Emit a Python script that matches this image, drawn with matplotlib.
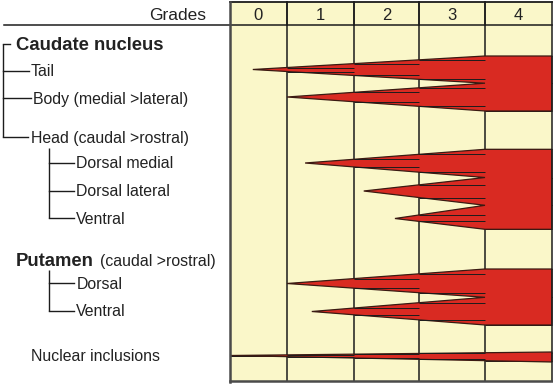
import numpy as np
import matplotlib
matplotlib.use('Agg')
import matplotlib.pyplot as plt
from matplotlib.patches import Polygon, Rectangle

plt.rcParams['font.family'] = ['Liberation Sans', 'DejaVu Sans']

# ---------------- data ----------------
grades = ['0', '1', '2', '3', '4']
caudate_labels = ['Tail', 'Body (medial >lateral)']
caudate_onset = [0.40, 1.00]          # grade at which involvement starts
head_labels = ['Dorsal medial', 'Dorsal lateral', 'Ventral']
head_onset = [1.27, 2.15, 2.63]
putamen_labels = ['Dorsal', 'Ventral']
putamen_onset = [1.00, 1.37]
inclusion_label = 'Nuclear inclusions'
inclusion_onset = [0.00]
full_grade = 4        # every region is fully involved at grade 4
inclusion_full = 5    # nuclear inclusions keep increasing through grade 4

# ---------------- layout (pixel space) ----------------
W, H = 553, 384
col_edges = [230, 287, 354, 419, 485, 552]
grade_pos = [0, 1, 2, 3, 4, 5]
grid_top, header_bot, grid_bot = 1.5, 25, 380.5
YELLOW = '#FAF7C9'
RED = '#D92A22'
EDGE = '#3a1a12'
LINE = '#1c1c1c'


def gx(g):
    return float(np.interp(g, grade_pos, col_edges))


groups = [
    dict(onset=caudate_onset, centers=[69.5, 97.0], bounds=[56.0, 83.2, 111.0], full=full_grade),
    dict(onset=head_onset, centers=[163.0, 191.0, 218.5], bounds=[149.3, 177.5, 205.3, 229.3], full=full_grade),
    dict(onset=putamen_onset, centers=[283.5, 311.5], bounds=[269.0, 297.3, 325.0], full=full_grade),
    dict(onset=inclusion_onset, centers=[355.5], bounds=[352.0, 362.0], full=inclusion_full),
]

fig = plt.figure(figsize=(W / 100, H / 100), dpi=100)
ax = fig.add_axes([0, 0, 1, 1])
ax.set_xlim(0, W)
ax.set_ylim(H, 0)
ax.axis('off')

# grid background
ax.add_patch(Rectangle((col_edges[0], grid_top), col_edges[-1] - col_edges[0],
                       grid_bot - grid_top, facecolor=YELLOW, edgecolor='none', zorder=1))

# horizontal cell lines: in each column, at the wedge edges at the column's left border
xr = col_edges[-1]
for grp in groups:
    xf = gx(grp['full'])
    for i, og in enumerate(grp['onset']):
        x0 = gx(og)
        c = grp['centers'][i]
        bt, bb = grp['bounds'][i], grp['bounds'][i + 1]
        for k in range(5):
            xc = col_edges[k]
            if k == 0:
                if abs(xc - x0) > 1:
                    continue
            elif xc < x0 + 1:
                continue
            t = min(max((xc - x0) / (xf - x0), 0), 1)
            z = 4.5 if 1 <= k <= 3 else 2
            for yb in (c + (bt - c) * t, c + (bb - c) * t):
                ax.plot([xc, col_edges[k + 1]], [yb, yb], color=LINE, lw=0.7, zorder=z,
                        solid_capstyle='butt')

# red wedge polygons
for grp in groups:
    xf = gx(grp['full'])
    n = len(grp['onset'])
    tips = [(gx(grp['onset'][i]), grp['centers'][i]) for i in range(n)]
    b = grp['bounds']
    verts = [tips[0], (xf, b[0]), (xr, b[0]), (xr, b[n]), (xf, b[n])]
    for i in range(n - 1, 0, -1):
        verts.append(tips[i])
        verts.append((xf, b[i]))
    ax.add_patch(Polygon(verts, closed=True, facecolor=RED, edgecolor=EDGE, lw=0.9,
                         joinstyle='miter', zorder=4))

# vertical column lines (under red)
for xc in col_edges[1:-1]:
    ax.plot([xc, xc], [grid_top, grid_bot], color=LINE, lw=1.1, zorder=3)
# header split and borders
ax.plot([4, xr], [header_bot, header_bot], color=LINE, lw=1.1, zorder=5)
ax.plot([col_edges[0], xr], [grid_top, grid_top], color=LINE, lw=1.3, zorder=5)
ax.plot([xr, xr], [grid_top, grid_bot], color=LINE, lw=1.1, zorder=5)
ax.plot([col_edges[0], col_edges[0]], [grid_top, grid_bot + 1], color='#4a4a4a', lw=1.8, zorder=5)
ax.plot([col_edges[0], xr + 0.5], [grid_bot, grid_bot], color='#4a4a4a', lw=1.8, zorder=5)
for xc in col_edges[1:-1]:
    ax.plot([xc, xc], [grid_top, header_bot], color=LINE, lw=1.1, zorder=5)

# header texts
ax.text(206, 19.5, 'Grades', ha='right', va='baseline', fontsize=12.5, color='#222')
for k, g in enumerate(grades):
    ax.text((col_edges[k] + col_edges[k + 1]) / 2, 20.5, g, ha='center', va='baseline',
            fontsize=12, color='#222')

# left-hand labels
TXT = '#222222'
LBL = 11.4
ax.text(15.8, 50.5, 'Caudate nucleus', ha='left', va='baseline', fontsize=13.3,
        fontweight='bold', color=TXT)
cau_y = [70.7, 98.3]
cau_base = [76.0, 103.7]
for lab, yl, yb, xe in zip(caudate_labels, cau_y, cau_base, [29, 31]):
    ax.plot([3, xe], [yl, yl], color=LINE, lw=1.0)
    ax.text(xe + 2, yb, lab, ha='left', va='baseline', fontsize=LBL, color=TXT)
ax.plot([3, 3], [43.5, 137.3], color=LINE, lw=1.0, solid_capstyle='butt')
ax.plot([3, 9.5], [43.5, 43.5], color=LINE, lw=1.0)
ax.plot([3, 28], [137.3, 137.3], color=LINE, lw=1.0)
ax.text(31, 143.2, 'Head (caudal >rostral)', ha='left', va='baseline', fontsize=LBL, color=TXT)

head_y = [162.8, 190.8, 218.4]
head_base = [168.5, 196.3, 224.0]
ax.plot([49, 49], [148, head_y[-1]], color=LINE, lw=1.0, solid_capstyle='butt')
for lab, yl, yb in zip(head_labels, head_y, head_base):
    ax.plot([49, 73.7], [yl, yl], color=LINE, lw=1.0)
    ax.text(76.3, yb, lab, ha='left', va='baseline', fontsize=LBL, color=TXT)

ax.text(15.8, 266.2, 'Putamen', ha='left', va='baseline', fontsize=13.3,
        fontweight='bold', color=TXT)
ax.text(100, 266.2, '(caudal >rostral)', ha='left', va='baseline', fontsize=LBL, color=TXT)
put_y = [283.3, 311.0]
put_base = [288.8, 316.5]
ax.plot([49, 49], [270, put_y[-1]], color=LINE, lw=1.0, solid_capstyle='butt')
for lab, yl, yb in zip(putamen_labels, put_y, put_base):
    ax.plot([49, 73.7], [yl, yl], color=LINE, lw=1.0)
    ax.text(76.3, yb, lab, ha='left', va='baseline', fontsize=LBL, color=TXT)

ax.text(31, 360.7, inclusion_label, ha='left', va='baseline', fontsize=LBL, color=TXT)

fig.savefig('out.png', dpi=100, facecolor='white')
